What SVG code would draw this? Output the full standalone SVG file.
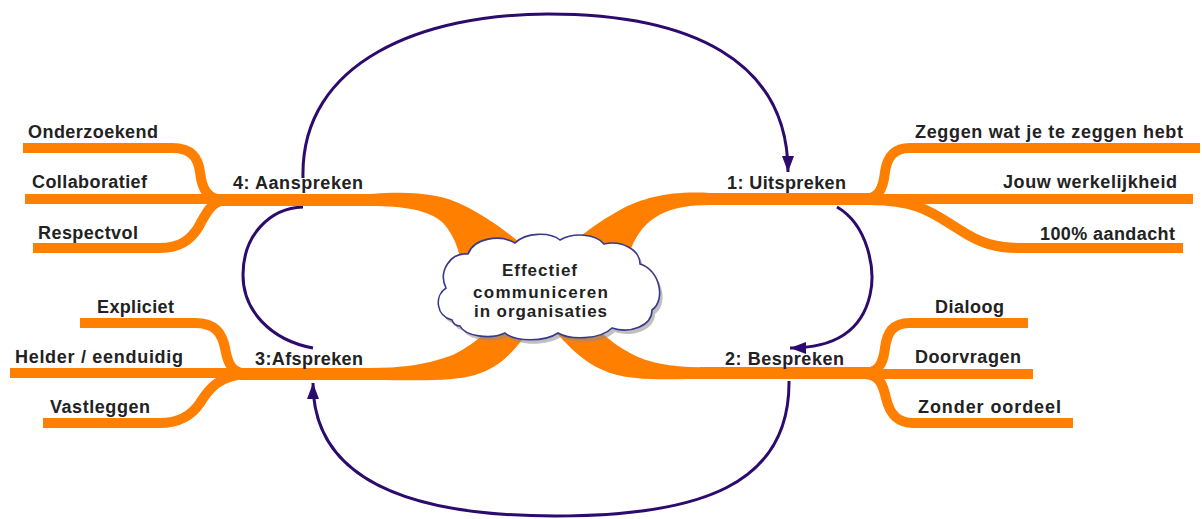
<svg xmlns="http://www.w3.org/2000/svg" width="1202" height="519" viewBox="0 0 1202 519">
<defs>
<style>
.br{fill:none;stroke:#FF7F00;stroke-width:10;stroke-linecap:butt}
.mn{fill:none;stroke:#FF7F00;stroke-width:12}
.band{fill:#FF7F00}
.cn{fill:none;stroke:#2D0B6E;stroke-width:3}
.lb{font-family:"Liberation Sans",Arial,sans-serif;font-size:18px;font-weight:bold;fill:#222}
.ct{font-family:"Liberation Sans",Arial,sans-serif;font-size:17px;font-weight:bold;fill:#222}
</style>
<marker id="ah" viewBox="0 0 16 12" refX="16" refY="6" markerWidth="16" markerHeight="12" markerUnits="userSpaceOnUse" orient="auto">
<path d="M0,0 L16,6 L0,12 z" fill="#2D0B6E"/>
</marker>
<path id="cloud" d="M452,320 C436,316 434,296 446,288 C438,272 450,252 468,254 C474,238 500,234 515,243 C526,232 550,232 560,240 C574,232 596,234 604,244 C622,240 640,250 640,264 C660,270 666,300 652,310 C652,326 630,334 612,328 C600,340 570,340 558,333 C545,342 515,342 505,333 C490,340 465,336 460,326 C455,326 453,323 452,320 Z"/>
</defs>
<rect width="1202" height="519" fill="#fff"/>

<g id="connectors">
<path class="cn" d="M303,178 C300,60 425,14 548,14 C690,14 788,60 788,172" marker-end="url(#ah)"/>
<path class="cn" d="M837,207 C868,225 876,270 870,295 C862,330 835,348 790,348" marker-end="url(#ah)"/>
<path class="cn" d="M789,381 C790,485 700,516 555,516 C410,516 313,480 313,383" marker-end="url(#ah)"/>
<path class="cn" d="M313,348 C270,340 243,310 243,275 C243,235 270,208 303,207"/>
</g>

<g id="branches">
<path class="band" d="M370,194 C410,191 440,193 465,206 C490,219 510,233 540,260 L520,300 L465,285 C462,262 458,238 442,222 C428,210 405,206 370,206 Z"/>
<path class="band" d="M710,193 C670,191 645,197 620,210 C600,221 580,235 555,258 L570,300 L622,285 C625,265 630,245 640,232 C652,216 670,205 710,205 Z"/>
<path class="band" d="M370,368 C400,368 425,365 450,356 C470,348 490,330 520,300 L560,300 L522,340 C510,355 498,368 475,375 C450,382 420,380 370,380 Z"/>
<path class="band" d="M710,367 C675,368 650,364 630,353 C612,343 600,333 570,300 L530,305 L563,340 C575,353 590,366 610,373 C635,381 660,379 710,379 Z"/>
<path class="mn" d="M213,200 H380"/>
<path class="mn" d="M700,199 H880"/>
<path class="mn" d="M240,374 H380"/>
<path class="mn" d="M700,373 H880"/>
<path class="br" d="M23,148 H172 C192,148 198,158 200,172 C202,190 208,199 222,200"/>
<path class="br" d="M25,199 H222"/>
<path class="br" d="M33,248 H160 C180,248 190,240 198,228 C206,213 212,201 225,200"/>
<path class="br" d="M1200,148 H910 C893,148 887,158 885,172 C883,190 878,198 865,199"/>
<path class="br" d="M865,199 H1193"/>
<path class="br" d="M870,200 C920,200 935,215 960,230 C980,243 995,248 1020,248 H1183"/>
<path class="br" d="M80,323 H195 C215,323 222,333 225,348 C228,365 232,373 248,374"/>
<path class="br" d="M10,373 H250"/>
<path class="br" d="M43,423 H160 C180,423 192,415 200,403 C210,387 220,376 245,374"/>
<path class="br" d="M1028,323 H910 C892,323 887,333 885,348 C883,365 878,373 862,373"/>
<path class="br" d="M862,374 H1033"/>
<path class="br" d="M865,374 C880,375 883,385 886,398 C890,415 898,423 913,423 H1073"/>
</g>

<g id="center">
<use href="#cloud" transform="translate(3,4)" fill="#8c8c8c" fill-opacity="0.55"/>
<use href="#cloud" fill="#fff" stroke="#3A3A8A" stroke-width="1.6"/>
<text class="ct" x="502" y="276" textLength="75" lengthAdjust="spacing">Effectief</text>
<text class="ct" x="473" y="298" textLength="135" lengthAdjust="spacing">communiceren</text>
<text class="ct" x="474" y="317" textLength="133" lengthAdjust="spacing">in organisaties</text>
</g>

<g id="n4"><text class="lb" x="233" y="189" textLength="130" lengthAdjust="spacing">4: Aanspreken</text></g>
<g id="n4a"><text class="lb" x="28" y="138" textLength="130" lengthAdjust="spacing">Onderzoekend</text></g>
<g id="n4b"><text class="lb" x="32" y="188" textLength="115" lengthAdjust="spacing">Collaboratief</text></g>
<g id="n4c"><text class="lb" x="38" y="239" textLength="100" lengthAdjust="spacing">Respectvol</text></g>

<g id="n1"><text class="lb" x="727" y="189" textLength="119" lengthAdjust="spacing">1: Uitspreken</text></g>
<g id="n1a"><text class="lb" x="915" y="138" textLength="268" lengthAdjust="spacing">Zeggen wat je te zeggen hebt</text></g>
<g id="n1b"><text class="lb" x="1003" y="188" textLength="174" lengthAdjust="spacing">Jouw werkelijkheid</text></g>
<g id="n1c"><text class="lb" x="1040" y="240" textLength="135" lengthAdjust="spacing">100% aandacht</text></g>

<g id="n3"><text class="lb" x="255" y="365" textLength="108" lengthAdjust="spacing">3:Afspreken</text></g>
<g id="n3a"><text class="lb" x="97" y="313" textLength="77" lengthAdjust="spacing">Expliciet</text></g>
<g id="n3b"><text class="lb" x="15" y="363" textLength="168" lengthAdjust="spacing">Helder / eenduidig</text></g>
<g id="n3c"><text class="lb" x="50" y="413" textLength="100" lengthAdjust="spacing">Vastleggen</text></g>

<g id="n2"><text class="lb" x="725" y="365" textLength="119" lengthAdjust="spacing">2: Bespreken</text></g>
<g id="n2a"><text class="lb" x="935" y="313" textLength="69" lengthAdjust="spacing">Dialoog</text></g>
<g id="n2b"><text class="lb" x="915" y="363" textLength="106" lengthAdjust="spacing">Doorvragen</text></g>
<g id="n2c"><text class="lb" x="918" y="413" textLength="143" lengthAdjust="spacing">Zonder oordeel</text></g>
</svg>
